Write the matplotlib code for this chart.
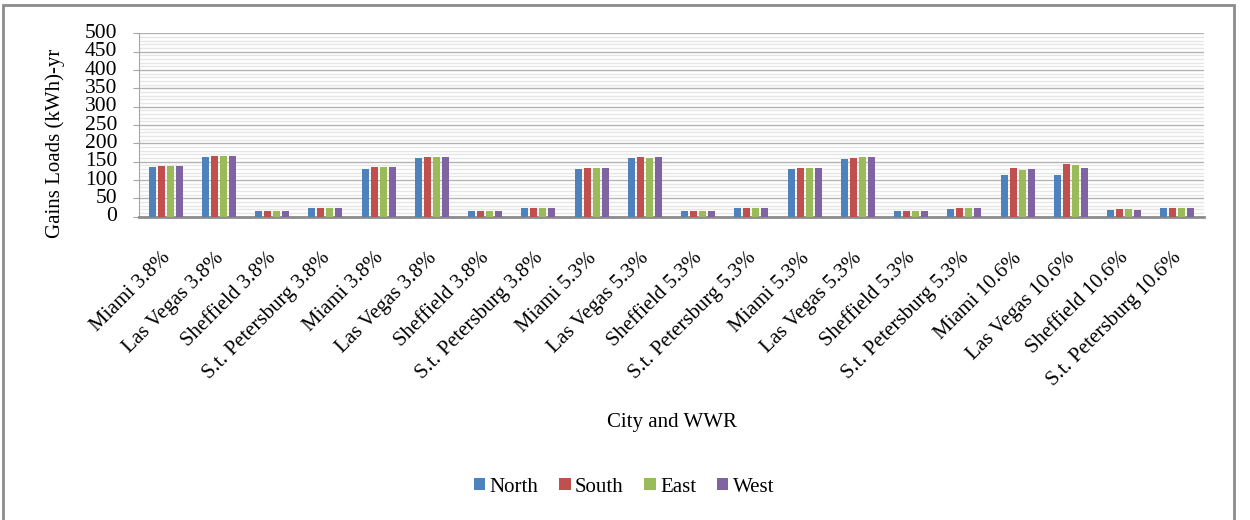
import numpy as np
import matplotlib
matplotlib.use("Agg")
import matplotlib.pyplot as plt
import matplotlib.transforms as mtransforms
from matplotlib.patches import Rectangle
from matplotlib.ticker import MultipleLocator

plt.rcParams["font.family"] = ["Liberation Serif", "DejaVu Serif"]

cases = [
    "Miami 3.8%", "Las Vegas 3.8%", "Sheffield 3.8%", "S.t. Petersburg 3.8%",
    "Miami 3.8%", "Las Vegas 3.8%", "Sheffield 3.8%", "S.t. Petersburg 3.8%",
    "Miami 5.3%", "Las Vegas 5.3%", "Sheffield 5.3%", "S.t. Petersburg 5.3%",
    "Miami 5.3%", "Las Vegas 5.3%", "Sheffield 5.3%", "S.t. Petersburg 5.3%",
    "Miami 10.6%", "Las Vegas 10.6%", "Sheffield 10.6%", "S.t. Petersburg 10.6%",
]
north = [136, 164, 16, 24, 131, 160, 15, 23, 129, 159, 15, 23, 129, 156, 15, 20, 113, 115, 17, 23]
south = [139, 166, 16, 24, 136, 163, 15, 23, 134, 162, 15, 23, 132, 159, 15, 23, 132, 143, 20, 25]
east = [139, 166, 16, 24, 136, 163, 15, 23, 132, 159, 15, 23, 132, 162, 15, 23, 126, 140, 20, 25]
west = [139, 166, 16, 24, 136, 163, 15, 23, 134, 162, 15, 23, 132, 162, 15, 23, 129, 134, 17, 23]

series = [("North", north, "#4F81BD"), ("South", south, "#C0504D"),
          ("East", east, "#9BBB59"), ("West", west, "#8064A2")]

fig = plt.figure(figsize=(12.5, 5.2), dpi=100)
ax = fig.add_axes([0.1112, 0.5833, 0.852, 0.3526])

x = np.arange(len(cases))
width = 0.13
step = 0.168
for i, (name, vals, color) in enumerate(series):
    ax.bar(x + (i - 1.5) * step, vals, width, color=color, label=name, zorder=3)

ax.set_xlim(-0.5, len(cases) - 0.5)
ax.set_ylim(0, 500)
ax.yaxis.set_major_locator(MultipleLocator(50))
ax.yaxis.set_minor_locator(MultipleLocator(10))
ax.grid(axis="y", which="major", color="#B3B3B3", linewidth=1.0, zorder=0)
ax.grid(axis="y", which="minor", color="#E6E6E6", linewidth=1.0, zorder=0)
ax.set_axisbelow(True)

for side in ["top", "right"]:
    ax.spines[side].set_visible(False)
ax.spines["left"].set_color("#A6A6A6")
ax.spines["bottom"].set_color("#8C8C8C")
ax.spines["bottom"].set_linewidth(2.0)

ax.tick_params(axis="y", which="major", length=4.5, color="#A6A6A6", labelsize=15.5, pad=11)
ax.tick_params(axis="y", which="minor", length=0)
ax.tick_params(axis="x", length=0, labelsize=15, pad=23)
ax.set_xticks(x)
ax.set_xticklabels(cases, rotation=45, ha="right", rotation_mode="anchor")
# nudge the slanted category labels a little to the left
shift = mtransforms.ScaledTranslation(-5 / 100, 0, fig.dpi_scale_trans)
for lab in ax.get_xticklabels():
    lab.set_transform(lab.get_transform() + shift)
for lab in ax.get_yticklabels():
    lab.set_verticalalignment("center")

fig.text(55 / 1250, 1 - 143 / 520, "Gains Loads (kWh)-yr", rotation=90, ha="center",
         va="center", fontsize=15)
fig.text(672 / 1250, 1 - 422 / 520, "City and WWR", ha="center", va="center", fontsize=15)

handles, labels = ax.get_legend_handles_labels()
fig.legend(handles, labels, loc="center", bbox_to_anchor=(624 / 1250, 1 - 487 / 520), ncol=4,
           frameon=False, fontsize=15, handlelength=0.55, handleheight=0.55,
           handletextpad=0.2, columnspacing=1.0)

fig.patches.append(Rectangle((3 / 1250, -0.02), 1231 / 1250, 1.0 - 5 / 520 + 0.02,
                             transform=fig.transFigure, fill=False,
                             edgecolor="#8C8C8C", linewidth=2.0))

fig.savefig("out.png", dpi=100)
